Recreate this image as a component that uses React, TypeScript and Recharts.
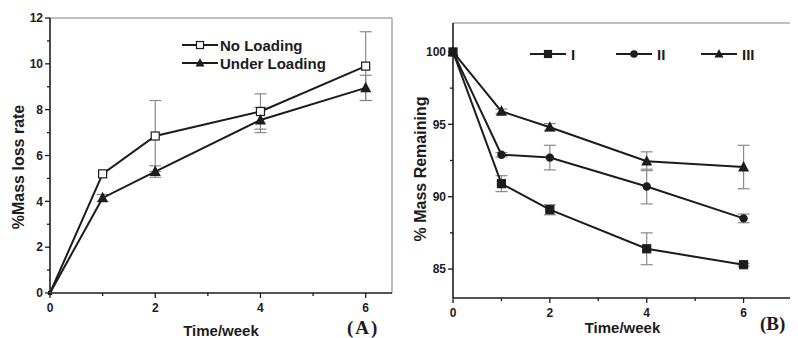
import React from "react";
import {
  LineChart,
  Line,
  XAxis,
  YAxis,
  ErrorBar,
  ReferenceLine,
  Label,
} from "recharts";

// shared x values (weeks)
const weeks = [0, 1, 2, 4, 6];

// panel A: % mass loss rate
const noLoading = [0, 5.2, 6.85, 7.92, 9.9];
const noLoadingErr = [0, 0, 1.55, 0.77, 1.5];
const underLoading = [0, 4.15, 5.3, 7.55, 8.95];
const underLoadingErr = [0, 0.15, 0.25, 0.55, 0.55];

// panel B: % mass remaining
const seriesI = [100, 90.9, 89.1, 86.4, 85.3];
const errI = [0, 0.55, 0.35, 1.1, 0.1];
const seriesII = [100, 92.9, 92.7, 90.7, 88.5];
const errII = [0, 0.15, 0.85, 1.2, 0.3];
const seriesIII = [100, 95.9, 94.8, 92.45, 92.05];
const errIII = [0, 0.15, 0.25, 0.65, 1.5];

const ticksA_x = [0, 1, 2, 3, 4, 5, 6];
const ticksA_y = [0, 1, 2, 3, 4, 5, 6, 7, 8, 9, 10, 11, 12];
const ticksB_x = [0, 1, 2, 3, 4, 5, 6, 7];
const ticksB_y = [85, 87.5, 90, 92.5, 95, 97.5, 100];

const dataA = weeks.map((w, i) => ({
  week: w,
  noLoading: noLoading[i],
  noLoadingErr: noLoadingErr[i],
  underLoading: underLoading[i],
  underLoadingErr: underLoadingErr[i],
}));

const dataB = weeks.map((w, i) => ({
  week: w,
  I: seriesI[i],
  errI: errI[i],
  II: seriesII[i],
  errII: errII[i],
  III: seriesIII[i],
  errIII: errIII[i],
}));

const INK = "#1c1c1c";
const FRAME = "#a8a8a8";
const ERR = "#8a8a8a";
const SANS = "'Liberation Sans', Arial, sans-serif";
const SERIF = "'Liberation Serif', 'Times New Roman', serif";

const Square = ({ cx, cy, s = 8, fill = "#fff" }: any) => (
  <rect x={cx - s / 2} y={cy - s / 2} width={s} height={s} fill={fill} stroke={INK} strokeWidth={1.2} />
);
const Triangle = ({ cx, cy, s = 10 }: any) => (
  <path
    d={`M${cx},${cy - s * 0.55} L${cx + s / 2},${cy + s * 0.4} L${cx - s / 2},${cy + s * 0.4} Z`}
    fill={INK}
  />
);
const Circle = ({ cx, cy, r = 4.2 }: any) => <circle cx={cx} cy={cy} r={r} fill={INK} />;

const makeXTick = (isMajor: (v: number) => boolean) => (props: any) => {
  const { x, y, payload } = props;
  const major = isMajor(payload.value);
  return (
    <g>
      <line x1={x} x2={x} y1={y} y2={y + (major ? 5 : 3)} stroke={INK} strokeWidth={1.3} />
      {major && (
        <text x={x} y={y + 19} textAnchor="middle" fontSize={12} fontWeight="bold" fill={INK} fontFamily={SANS}>
          {payload.value}
        </text>
      )}
    </g>
  );
};

const makeYTick = (isMajor: (v: number) => boolean) => (props: any) => {
  const { x, y, payload } = props;
  const major = isMajor(payload.value);
  return (
    <g>
      <line x1={x} x2={x - (major ? 5 : 3)} y1={y} y2={y} stroke={INK} strokeWidth={1.3} />
      {major && (
        <text x={x - 7} y={y + 4.3} textAnchor="end" fontSize={12} fontWeight="bold" fill={INK} fontFamily={SANS}>
          {payload.value}
        </text>
      )}
    </g>
  );
};

const yTitle = (text: string, cx: number, cy: number) => () => (
  <text
    x={cx}
    y={cy}
    transform={`rotate(-90, ${cx}, ${cy})`}
    textAnchor="middle"
    dominantBaseline="central"
    fontSize={16}
    fontWeight="bold"
    fill={INK}
    fontFamily={SANS}
  >
    {text}
  </text>
);

const LegendLine = ({ x, y, children }: any) => (
  <g>
    <line x1={x} x2={x + 36} y1={y} y2={y} stroke={INK} strokeWidth={2} />
    {children}
  </g>
);

const App: React.FC = () => {
  return (
    <div style={{ position: "relative", width: 798, height: 338, margin: "-8px 0 0 -8px", background: "#fff" }}>
      <div style={{ position: "absolute", left: 0, top: 0 }}>
        <LineChart width={400} height={338} data={dataA} margin={{ top: 18, right: 8, bottom: 0, left: 0 }}>
          <ReferenceLine y={12} stroke={FRAME} strokeWidth={1.5} />
          <ReferenceLine x={6.5} stroke={FRAME} strokeWidth={1.5} />
          <XAxis
            dataKey="week"
            type="number"
            domain={[0, 6.5]}
            ticks={ticksA_x}
            height={45}
            tickSize={0}
            tickMargin={0}
            tickLine={false}
            axisLine={{ stroke: INK, strokeWidth: 1.6 }}
            tick={makeXTick((v) => v % 2 === 0)}
            interval={0}
          >
            <Label content={() => (
              <text x={221} y={336} textAnchor="middle" fontSize={15} fontWeight="bold" fill={INK} fontFamily={SANS}>
                Time/week
              </text>
            )} />
          </XAxis>
          <YAxis
            type="number"
            domain={[0, 12]}
            ticks={ticksA_y}
            width={50}
            tickSize={0}
            tickMargin={0}
            tickLine={false}
            axisLine={{ stroke: INK, strokeWidth: 1.6 }}
            tick={makeYTick((v) => v % 2 === 0)}
            interval={0}
          >
            <Label content={yTitle("%Mass loss rate", 18, 167)} />
          </YAxis>
          <Line
            type="linear"
            dataKey="noLoading"
            stroke={INK}
            strokeWidth={2}
            isAnimationActive={false}
            dot={(p: any) => <Square key={p.index} cx={p.cx} cy={p.cy} s={p.index === 0 ? 3 : 8} />}
          >
            <ErrorBar dataKey="noLoadingErr" width={6} stroke={ERR} strokeWidth={1.2} direction="y" />
          </Line>
          <Line
            type="linear"
            dataKey="underLoading"
            stroke={INK}
            strokeWidth={2}
            isAnimationActive={false}
            dot={(p: any) => <Triangle key={p.index} cx={p.cx} cy={p.cy} s={p.index === 0 ? 3 : 11} />}
          >
            <ErrorBar dataKey="underLoadingErr" width={6} stroke={ERR} strokeWidth={1.2} direction="y" />
          </Line>
        </LineChart>
      </div>

      <div style={{ position: "absolute", left: 400, top: 0 }}>
        <LineChart width={398} height={338} data={dataB} margin={{ top: 23, right: 6, bottom: 0, left: 0 }}>
          <ReferenceLine y={102} stroke={FRAME} strokeWidth={1.5} />
          <ReferenceLine x={7} stroke={FRAME} strokeWidth={1.5} />
          <XAxis
            dataKey="week"
            type="number"
            domain={[0, 7]}
            ticks={ticksB_x}
            height={40}
            tickSize={0}
            tickMargin={0}
            tickLine={false}
            axisLine={{ stroke: INK, strokeWidth: 1.6 }}
            tick={makeXTick((v) => v % 2 === 0 && v < 7)}
            interval={0}
          >
            <Label content={() => (
              <text x={222.5} y={333} textAnchor="middle" fontSize={15} fontWeight="bold" fill={INK} fontFamily={SANS}>
                Time/week
              </text>
            )} />
          </XAxis>
          <YAxis
            type="number"
            domain={[83, 102]}
            ticks={ticksB_y}
            width={53}
            tickSize={0}
            tickMargin={0}
            tickLine={false}
            axisLine={{ stroke: INK, strokeWidth: 1.6 }}
            tick={makeYTick((v) => v % 5 === 0)}
            interval={0}
          >
            <Label content={yTitle("% Mass Remaining", 20, 169)} />
          </YAxis>
          <Line
            type="linear"
            dataKey="I"
            stroke={INK}
            strokeWidth={2}
            isAnimationActive={false}
            dot={(p: any) => <Square key={p.index} cx={p.cx} cy={p.cy} s={8} fill={INK} />}
          >
            <ErrorBar dataKey="errI" width={6} stroke={ERR} strokeWidth={1.2} direction="y" />
          </Line>
          <Line
            type="linear"
            dataKey="II"
            stroke={INK}
            strokeWidth={2}
            isAnimationActive={false}
            dot={(p: any) => <Circle key={p.index} cx={p.cx} cy={p.cy} />}
          >
            <ErrorBar dataKey="errII" width={6} stroke={ERR} strokeWidth={1.2} direction="y" />
          </Line>
          <Line
            type="linear"
            dataKey="III"
            stroke={INK}
            strokeWidth={2}
            isAnimationActive={false}
            dot={(p: any) => <Triangle key={p.index} cx={p.cx} cy={p.cy} s={11} />}
          >
            <ErrorBar dataKey="errIII" width={6} stroke={ERR} strokeWidth={1.2} direction="y" />
          </Line>
        </LineChart>
      </div>

      {/* legends and panel letters */}
      <svg width={798} height={338} style={{ position: "absolute", left: 0, top: 0, pointerEvents: "none" }}>
        <g fontFamily={SANS} fontWeight="bold" fill={INK} fontSize={15}>
          <LegendLine x={182} y={45}>
            <Square cx={200} cy={45} s={7} />
          </LegendLine>
          <text x={220} y={50.5}>No Loading</text>
          <LegendLine x={182} y={63}>
            <Triangle cx={200} cy={63} s={9} />
          </LegendLine>
          <text x={220} y={68.5}>Under Loading</text>

          <LegendLine x={530} y={54}>
            <Square cx={548} cy={54} s={7} fill={INK} />
          </LegendLine>
          <text x={571} y={59.5}>I</text>
          <LegendLine x={616} y={54}>
            <Circle cx={634} cy={54} r={3.8} />
          </LegendLine>
          <text x={657} y={59.5}>II</text>
          <LegendLine x={701} y={54}>
            <Triangle cx={719} cy={54} s={9} />
          </LegendLine>
          <text x={742} y={59.5}>III</text>
        </g>
        <g fontFamily={SERIF} fontWeight="bold" fill={INK} fontSize={19}>
          <text x={347} y={333.5} letterSpacing={2}>(A)</text>
          <text x={760} y={330}>(B)</text>
        </g>
      </svg>
    </div>
  );
};

export default App;
